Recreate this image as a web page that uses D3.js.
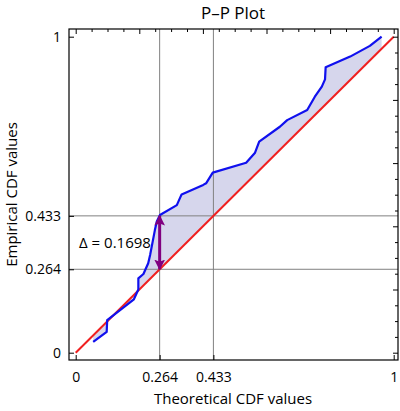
<!DOCTYPE html>
<html><head><meta charset="utf-8">
<script src="https://cdn.jsdelivr.net/npm/d3@7"></script>
<style>body{margin:0;background:#fff}svg{display:block;font-family:"Open Sans",sans-serif}</style>
</head><body><svg id="c" width="400" height="411"></svg>
<script>
const theoretical = [0.055,0.0975,0.099,0.183,0.197,0.197,0.213,0.228,0.234,0.249,0.255,0.265,0.318,0.333,0.401,0.410,0.431,0.536,0.564,0.577,0.642,0.665,0.728,0.752,0.774,0.784,0.786,0.863,0.925,0.962];
const empirical   = [0.034,0.066,0.103,0.169,0.200,0.235,0.249,0.283,0.309,0.388,0.415,0.436,0.467,0.501,0.531,0.536,0.570,0.601,0.633,0.668,0.715,0.736,0.768,0.810,0.842,0.865,0.903,0.937,0.971,1.000];
const xTickValues = [0,0.264,0.433,1];
const xTickLabels = ["0","0.264","0.433","1"];
const yTickValues = [0,0.264,0.433,1];
const yTickLabels = ["0","0.264","0.433","1"];
const gridValues = [0.264,0.433];
const deltaPoint = 0.264, deltaTop = 0.433, deltaValue = "0.1698";

const svg = d3.select("#c");
const fx0=69, fx1=398, fy0=29, fy1=360;
const x = d3.scaleLinear().domain([0,1]).range([75.7,393.7]);
const y = d3.scaleLinear().domain([0,1]).range([352.7,36.7]);

// fill between curve and diagonal
const pts = theoretical.map((t,i)=>[t,empirical[i]]);
const poly = pts.concat([[theoretical[theoretical.length-1],theoretical[theoretical.length-1]],[theoretical[0],theoretical[0]]]);
svg.append("path").attr("d", d3.line().x(d=>x(d[0])).y(d=>y(d[1]))(poly)+"Z")
  .attr("fill","#d6d6ec").attr("stroke","none");

// grid
gridValues.forEach(v=>{
  svg.append("line").attr("x1",x(v)).attr("x2",x(v)).attr("y1",fy0).attr("y2",fy1).attr("stroke","#808080").attr("stroke-width",1);
  svg.append("line").attr("y1",y(v)).attr("y2",y(v)).attr("x1",fx0).attr("x2",fx1).attr("stroke","#808080").attr("stroke-width",1);
});

// diagonal
svg.append("path").attr("d", d3.line().x(d=>x(d)).y(d=>y(d))([0,1]))
  .attr("stroke","#f02020").attr("stroke-width",2).attr("fill","none");
// empirical curve
svg.append("path").attr("d", d3.line().x(d=>x(d[0])).y(d=>y(d[1]))(pts))
  .attr("stroke","#1010ee").attr("stroke-width",2.2).attr("fill","none").attr("stroke-linejoin","round");

// arrow
const defs = svg.append("defs");
defs.append("marker").attr("id","ah").attr("viewBox","0 0 10 10").attr("refX",9).attr("refY",5)
  .attr("markerWidth",3.6).attr("markerHeight",3.6).attr("orient","auto-start-reverse").attr("markerUnits","strokeWidth")
  .append("path").attr("d","M0,0L10,5L0,10L2,5Z").attr("fill","#800080");
svg.append("line").attr("x1",x(deltaPoint)).attr("x2",x(deltaPoint)).attr("y1",y(deltaPoint)).attr("y2",y(deltaTop))
  .attr("stroke","#800080").attr("stroke-width",3).attr("marker-start","url(#ah)").attr("marker-end","url(#ah)");
svg.append("text").attr("x",79).attr("y",248).attr("font-size",15).attr("fill","#000").text("Δ = "+deltaValue);

// frame
svg.append("rect").attr("x",fx0).attr("y",fy0).attr("width",fx1-fx0).attr("height",fy1-fy0)
  .attr("fill","none").attr("stroke","#000").attr("stroke-width",1.2);

// bottom/left ticks
const bAxis = d3.axisBottom(x).tickValues(xTickValues).tickFormat((d,i)=>xTickLabels[i]).tickSizeInner(-5).tickSizeOuter(0).tickPadding(12);
const gB = svg.append("g").attr("transform",`translate(0,${fy1})`).call(bAxis);
gB.select(".domain").remove();
const lAxis = d3.axisLeft(y).tickValues(yTickValues).tickFormat((d,i)=>yTickLabels[i]).tickSizeInner(-5).tickSizeOuter(0).tickPadding(8);
const gL = svg.append("g").attr("transform",`translate(${fx0},0)`).call(lAxis);
gL.select(".domain").remove();
[gB,gL].forEach(g=>{g.selectAll("text").attr("font-size",14).attr("font-family","Open Sans").attr("fill","#000");g.selectAll("line").attr("stroke","#000");});

// top/right ticks
const minor = d3.range(0,21).map(i=>i*0.05);
const tAxis = d3.axisTop(x).tickValues(minor).tickFormat("").tickSizeOuter(0);
const gT = svg.append("g").attr("transform",`translate(0,${fy0})`).call(tAxis);
gT.select(".domain").remove();
gT.selectAll(".tick line").attr("y2",(d)=> (Math.round(d*100)%20===0)?5:3).attr("stroke","#000");
const rAxis = d3.axisRight(y).tickValues(minor).tickFormat("").tickSizeOuter(0);
const gR = svg.append("g").attr("transform",`translate(${fx1},0)`).call(rAxis);
gR.select(".domain").remove();
gR.selectAll(".tick line").attr("x2",(d)=> -((Math.round(d*100)%20===0)?5:3)).attr("stroke","#000");

// labels
svg.append("text").attr("x",233).attr("y",19).attr("text-anchor","middle").attr("font-size",17).text("P–P Plot");
svg.append("text").attr("x",233).attr("y",404).attr("text-anchor","middle").attr("font-size",15).text("Theoretical CDF values");
svg.append("text").attr("transform","translate(17,194.5) rotate(-90)").attr("text-anchor","middle").attr("font-size",15).text("Empirical CDF values");
</script></body></html>
